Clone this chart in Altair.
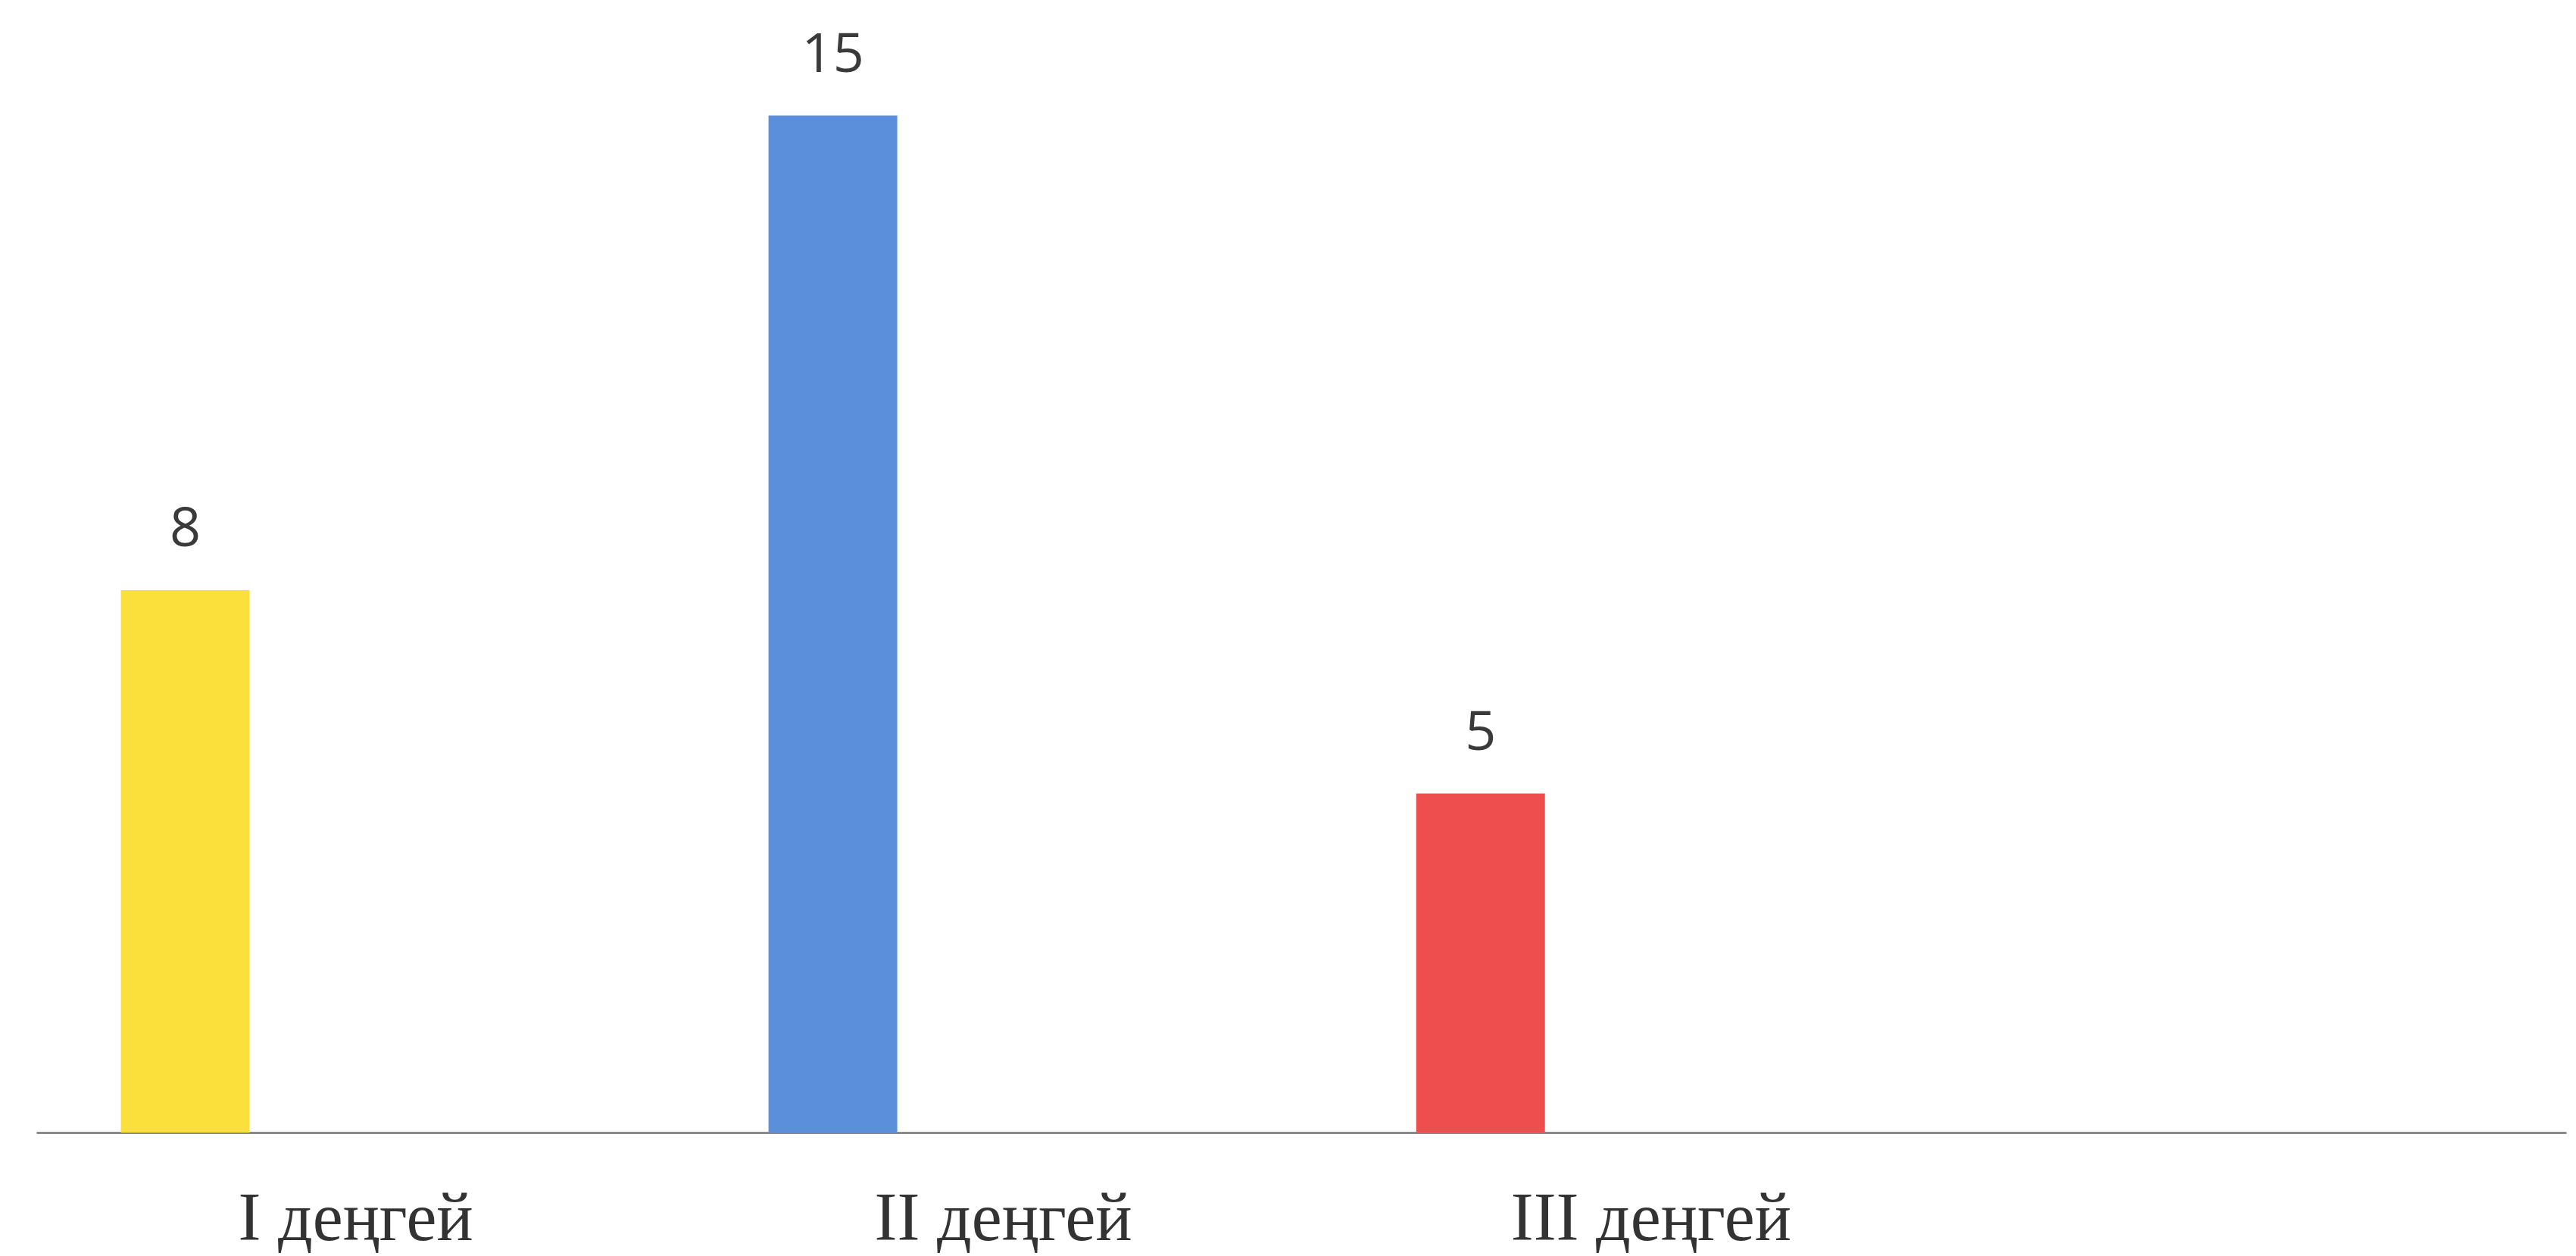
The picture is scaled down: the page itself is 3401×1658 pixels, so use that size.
import altair as alt
import pandas as pd

categories = ["I деңгей", "II деңгей", "III деңгей"]
values = [8, 15, 5]
colors = ["#FBDF3A", "#5B8FDB", "#EE4E4E"]

df = pd.DataFrame({"level": categories, "value": values})

x_enc = alt.X(
    "level:N",
    sort=categories,
    scale=alt.Scale(domain=categories, paddingInner=0, paddingOuter=0.453, align=0),
    axis=alt.Axis(
        title=None,
        labelFont="Liberation Serif",
        labelFontSize=90,
        labelColor="#333333",
        labelAngle=0,
        labelLimit=0,
        ticks=False,
        labelPadding=141,
        labelBaseline="alphabetic",
        domainColor="#8a8a8a",
        domainWidth=3,
        labelOffset=-6,
        grid=False,
    ),
)
y_enc = alt.Y("value:Q", scale=alt.Scale(domain=[0, 16.56], nice=False), axis=None)

base = alt.Chart(df).encode(x=x_enc, y=y_enc)

bars = base.mark_bar(size=170, xOffset=-231).encode(
    color=alt.Color("level:N", scale=alt.Scale(domain=categories, range=colors), legend=None)
)
text = base.mark_text(
    xOffset=-231, dy=-58, baseline="alphabetic", font="Open Sans", fontSize=72, color="#3a3a3a"
).encode(text="value:Q")

chart = (
    alt.layer(bars, text)
    .properties(
        width=3340,
        height=1482,
        padding={"left": 40, "top": 5, "right": 5, "bottom": 0},
        background="white",
    )
    .configure_view(stroke=None)
)

chart.save("out.html", embed_options={"renderer": "svg", "actions": False})
